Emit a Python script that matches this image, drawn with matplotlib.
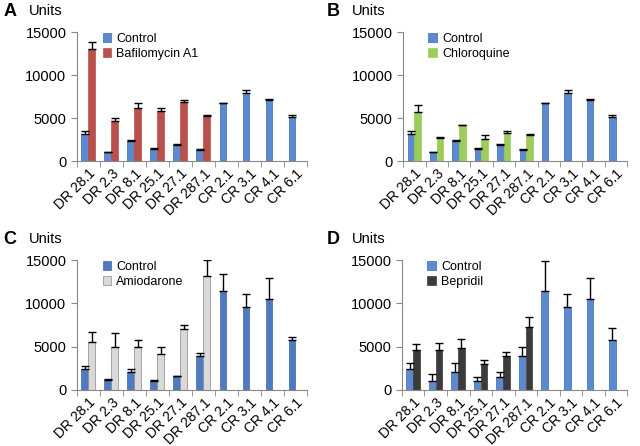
import numpy as np
import matplotlib.pyplot as plt

plt.rcParams['font.family'] = ['Liberation Sans', 'DejaVu Sans']

categories = ['DR 28.1', 'DR 2.3', 'DR 8.1', 'DR 25.1', 'DR 27.1', 'DR 287.1',
              'CR 2.1', 'CR 3.1', 'CR 4.1', 'CR 6.1']

# panels A and B share the control series
ctrl_ab = [3200, 1050, 2350, 1450, 1900, 1300, 6750, 7900, 7100, 5150]
ctrl_ab_err = [300, 50, 50, 50, 80, 50, 50, 350, 150, 200]

bafilo = [13000, 4700, 6150, 5800, 6850, 5250]
bafilo_err = [900, 300, 550, 400, 200, 100]

chloro = [5700, 2700, 4150, 2600, 3300, 3000]
chloro_err = [800, 120, 60, 450, 150, 150]

# panels C and D
ctrl_c = [2350, 1100, 2050, 1050, 1550, 3900, 11400, 9600, 10450, 5800]
ctrl_c_err = [350, 100, 400, 60, 100, 400, 2000, 1500, 2450, 300]

amio = [5550, 4950, 4900, 4150, 7000, 13100]
amio_err = [1150, 1600, 900, 750, 450, 1900]

ctrl_d = [2350, 1050, 2050, 1000, 1500, 3950, 11400, 9600, 10450, 5800]
ctrl_d_err = [700, 800, 1100, 450, 550, 1050, 3500, 1450, 2450, 1300]

bepri = [4600, 4600, 4800, 3000, 3850, 7300]
bepri_err = [700, 800, 1100, 450, 550, 1100]

panels = [
    ('A', [0.120, 0.639, 0.360, 0.289], '#5b8ad3', ctrl_ab, ctrl_ab_err, bafilo, bafilo_err, 'Bafilomycin A1', '#b8504b'),
    ('B', [0.630, 0.639, 0.350, 0.289], '#5b8ad3', ctrl_ab, ctrl_ab_err, chloro, chloro_err, 'Chloroquine', '#9ccc5a'),
    ('C', [0.120, 0.126, 0.360, 0.291], '#4f79c0', ctrl_c, ctrl_c_err, amio, amio_err, 'Amiodarone', '#d9d9d9'),
    ('D', [0.628, 0.126, 0.352, 0.291], '#5b8ad3', ctrl_d, ctrl_d_err, bepri, bepri_err, 'Bepridil', '#3b3b3b'),
]

fig = plt.figure(figsize=(6.4, 4.46), dpi=100)
w = 0.29
for letter, pos, blue, c, ce, t, te, tname, tcol in panels:
    ax = fig.add_axes(pos)
    x = np.arange(len(categories))
    xt = np.arange(len(t))
    ax.bar(x - 0.16, c, w, color=blue, edgecolor='#3f6aa8', linewidth=0.5, label='Control')
    ax.errorbar(x - 0.16, c, yerr=[np.zeros(len(c)), ce], fmt='none', ecolor='black',
                elinewidth=1, capsize=3, capthick=1)
    ax.bar(xt + 0.14, t, w, color=tcol, edgecolor='#888888' if tname == 'Amiodarone' else tcol,
           linewidth=0.5, label=tname)
    ax.errorbar(xt + 0.14, t, yerr=[np.zeros(len(t)), te], fmt='none', ecolor='black',
                elinewidth=1, capsize=3, capthick=1)
    ax.set_xlim(-0.5, len(categories) - 0.5)
    ax.set_ylim(0, 15000)
    ax.set_yticks([0, 5000, 10000, 15000])
    ax.tick_params(axis='y', labelsize=10.5, direction='out', length=4, color='#888888')
    ax.set_xticks(x)
    ax.set_xticklabels(categories, rotation=45, ha='right', rotation_mode='anchor', fontsize=10)
    ax.tick_params(axis='x', which='major', length=0, pad=4)
    ax.set_xticks(np.arange(len(categories) + 1) - 0.5, minor=True)
    ax.tick_params(axis='x', which='minor', length=4, direction='out', color='#888888')
    for s in ['top', 'right']:
        ax.spines[s].set_visible(False)
    for s in ['left', 'bottom']:
        ax.spines[s].set_color('#888888')
    ax.legend(loc='upper left', bbox_to_anchor=(0.09, 1.03), frameon=False, fontsize=9,
              handlelength=0.7, handleheight=0.7, handletextpad=0.4, labelspacing=0.2,
              borderaxespad=0)
    fx = 0.005 if pos[0] < 0.5 else 0.51
    fy = pos[1] + pos[3] + 0.047
    fig.text(fx, fy, letter, fontsize=13, fontweight='bold', va='center')
    fig.text(fx + 0.04, fy, 'Units', fontsize=10.5, va='center')

fig.savefig('out.png', dpi=100)
